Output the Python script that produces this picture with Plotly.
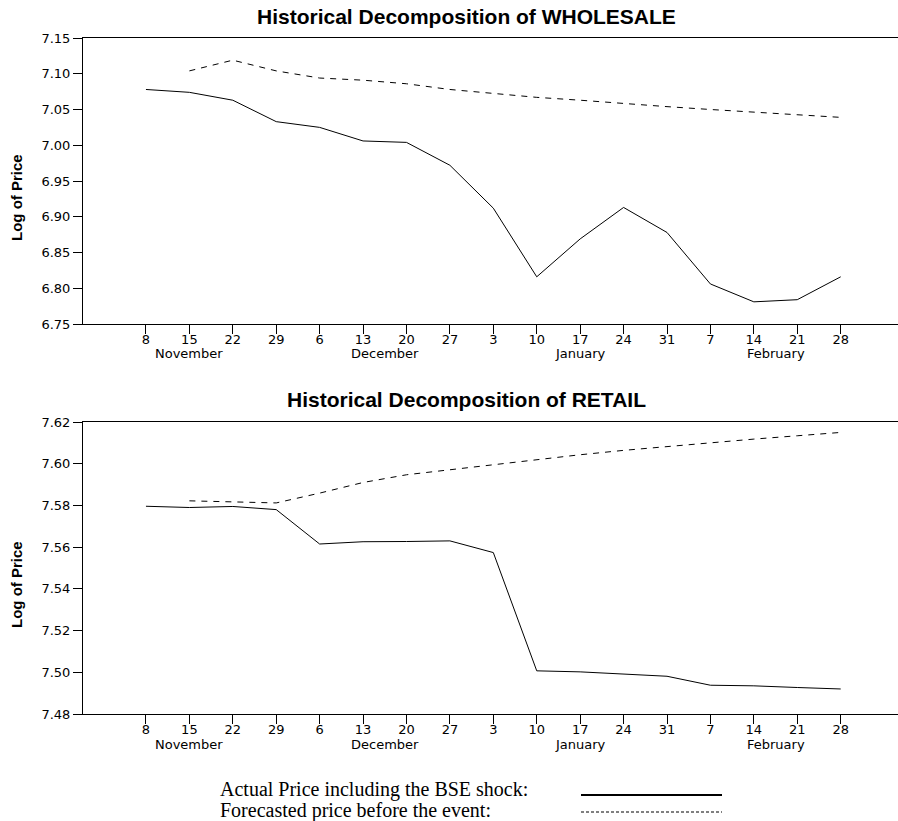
import plotly.graph_objects as go

# ---------------- data ----------------
week_labels = ["8", "15", "22", "29", "6", "13", "20", "27", "3", "10",
               "17", "24", "31", "7", "14", "21", "28"]
months = ["November", "December", "January", "February"]
month_pos = [1, 5.5, 10, 14.5]

wholesale_actual = [7.078, 7.074, 7.063, 7.033, 7.025, 7.006, 7.004, 6.972,
                    6.912, 6.816, 6.869, 6.913, 6.878, 6.806, 6.781, 6.784, 6.816]
wholesale_forecast = [None, 7.104, 7.119, 7.104, 7.094, 7.091, 7.086, 7.078,
                      7.072, 7.067, 7.063, 7.058, 7.054, 7.050, 7.046, 7.043, 7.039]

retail_actual = [7.5796, 7.5790, 7.5795, 7.5780, 7.5615, 7.5626, 7.5627, 7.5630,
                 7.5574, 7.5007, 7.5002, 7.4991, 7.4981, 7.4938, 7.4935, 7.4927, 7.4920]
retail_forecast = [None, 7.5822, 7.5817, 7.5812, 7.5859, 7.5910, 7.5947, 7.5971,
                   7.5996, 7.6022, 7.6043, 7.6064, 7.6083, 7.6102, 7.6118, 7.6134, 7.6150]

titles = ["Historical Decomposition of WHOLESALE", "Historical Decomposition of RETAIL"]
legend_labels = ["Actual Price including the BSE shock:", "Forecasted price before the event:"]

# ---------------- layout helpers ----------------
W, H = 898, 821
L = 83
PW = W - L

def px_x(p):
    return (p - L) / PW

def px_y(p):
    return 1 - p / H

idx = list(range(len(week_labels)))

fig = go.Figure()
fig.add_trace(go.Scatter(x=idx, y=wholesale_actual, mode="lines",
                         line=dict(color="black", width=1), xaxis="x", yaxis="y"))
fig.add_trace(go.Scatter(x=idx, y=wholesale_forecast, mode="lines",
                         line=dict(color="black", width=1, dash="6px,6px"), xaxis="x", yaxis="y"))
fig.add_trace(go.Scatter(x=idx, y=retail_actual, mode="lines",
                         line=dict(color="black", width=1), xaxis="x2", yaxis="y2"))
fig.add_trace(go.Scatter(x=idx, y=retail_forecast, mode="lines",
                         line=dict(color="black", width=1, dash="6px,6px"), xaxis="x2", yaxis="y2"))

SANS = "DejaVu Sans, Verdana, sans-serif"
tickfont = dict(family=SANS, size=13, color="black")
xcommon = dict(tickmode="array", tickvals=idx, ticktext=week_labels,
               ticks="outside", ticklen=9, tickcolor="black", tickwidth=1,
               showline=True, linecolor="black", linewidth=1, mirror=True,
               showgrid=False, zeroline=False, tickfont=tickfont,
               ticklabelstandoff=-6,
               range=[-1.45, 17.32], fixedrange=True, automargin=False)
ycommon = dict(ticks="outside", ticklen=9, tickcolor="black", tickwidth=1,
               showline=True, linecolor="black", linewidth=1,
               showgrid=False, zeroline=False, tickfont=tickfont, tickformat=".2f",
               fixedrange=True, automargin=False)

fig.update_layout(
    width=W, height=H,
    margin=dict(l=L, r=0, t=0, b=0, pad=0),
    paper_bgcolor="white", plot_bgcolor="white",
    showlegend=False,
    xaxis=dict(anchor="y", domain=[0, 1], **xcommon),
    yaxis=dict(anchor="x", domain=[px_y(324), px_y(38)], range=[6.75, 7.15],
               tickvals=[6.75, 6.80, 6.85, 6.90, 6.95, 7.00, 7.05, 7.10, 7.15], **ycommon),
    xaxis2=dict(anchor="y2", domain=[0, 1], **xcommon),
    yaxis2=dict(anchor="x2", domain=[px_y(714), px_y(422)], range=[7.48, 7.62],
                tickvals=[7.48, 7.50, 7.52, 7.54, 7.56, 7.58, 7.60, 7.62], **ycommon),
)

ann = []
# titles
for t, py in zip(titles, [17, 399]):
    ann.append(dict(text="<b>%s</b>" % t, x=px_x(466), y=px_y(py), xref="paper", yref="paper",
                    showarrow=False, xanchor="center", yanchor="middle",
                    font=dict(family="Liberation Sans, Arial, sans-serif", size=21, color="black")))
# y-axis titles
for py in [198, 585]:
    ann.append(dict(text="<b>Log of Price</b>", x=px_x(16), y=px_y(py), xref="paper", yref="paper",
                    showarrow=False, textangle=-90, xanchor="center", yanchor="middle",
                    font=dict(family="Liberation Sans, Arial, sans-serif", size=15, color="black")))
# month labels
for xa, py in [("x", 353), ("x2", 744)]:
    for m, pos in zip(months, month_pos):
        ann.append(dict(text=m, x=pos, y=px_y(py), xref=xa, yref="paper",
                        showarrow=False, xanchor="center", yanchor="middle",
                        font=dict(family=SANS, size=13, color="black")))
# bottom legend text
for lab, py in zip(legend_labels, [789, 810]):
    ann.append(dict(text=lab, x=px_x(218), y=px_y(py), xref="paper", yref="paper",
                    showarrow=False, xanchor="left", yanchor="middle",
                    font=dict(family="Liberation Serif, Times New Roman, serif", size=20, color="black")))
fig.update_layout(annotations=ann)

fig.add_shape(type="line", xref="paper", yref="paper",
              x0=px_x(581), x1=px_x(722), y0=px_y(795), y1=px_y(795),
              line=dict(color="black", width=2))
fig.add_shape(type="line", xref="paper", yref="paper",
              x0=px_x(581), x1=px_x(722), y0=px_y(812), y1=px_y(812),
              line=dict(color="black", width=1, dash="3px,2px"))

fig.write_html("out.html", config={"displayModeBar": False},
               post_script="document.body.style.margin='0';document.body.style.overflow='hidden';")
